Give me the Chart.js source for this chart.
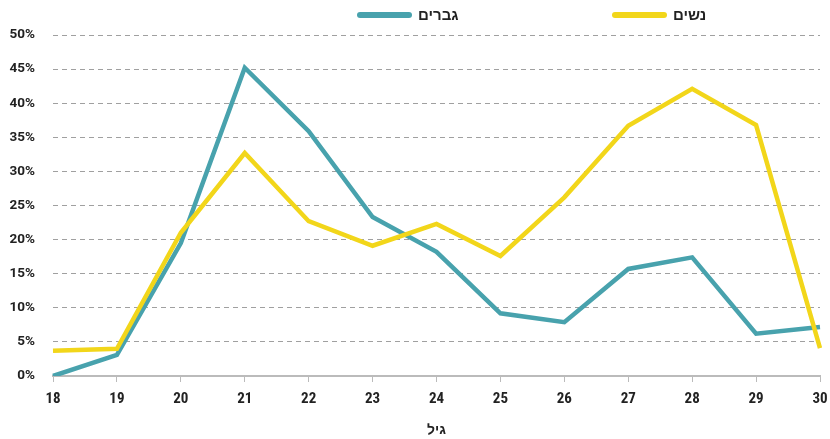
<!DOCTYPE html>
<html>
<head>
<meta charset="utf-8">
<script src="https://cdn.jsdelivr.net/npm/chart.js@4"></script>
<style>
  body { margin: 0; background: #fff; font-family: Roboto, sans-serif; }
  #wrap { position: relative; width: 830px; height: 439px; }
  .leg { position: absolute; top: 4px; height: 22px; display: flex; align-items: center; font-weight: bold; font-size: 15px; color: #222; }
  .leg span.ln { display: inline-block; width: 55px; height: 6px; border-radius: 3px; margin-right: 6px; }
</style>
</head>
<body>
<div id="wrap">
  <canvas id="chart" width="830" height="439"></canvas>
  <div class="leg" style="left:357px"><span class="ln" style="background:#48a2ad"></span><span>גברים</span></div>
  <div class="leg" style="left:612px"><span class="ln" style="background:#f2d61a"></span><span>נשים</span></div>
</div>
<script>
const ages = ['18', '19', '20', '21', '22', '23', '24', '25', '26', '27', '28', '29', '30'];
const men = [0, 3.1, 19.5, 45.2, 35.9, 23.3, 18.2, 9.2, 7.9, 15.7, 17.4, 6.2, 7.2];
const women = [3.7, 4.0, 21, 32.7, 22.7, 19.1, 22.3, 17.6, 26.2, 36.7, 42.1, 36.8, 4.1];

const ctx = document.getElementById('chart').getContext('2d');

new Chart(ctx, {
    type: 'line',
    data: {
        labels: ages,
        datasets: [
            {
                label: 'נשים',
                data: women,
                borderColor: '#f2d61a',
                borderWidth: 4.5,
                pointRadius: 0,
                tension: 0
            },
            {
                label: 'גברים',
                data: men,
                borderColor: '#48a2ad',
                borderWidth: 4.5,
                pointRadius: 0,
                tension: 0
            }
        ]
    },
    options: {
        responsive: false,
        animation: false,
        layout: { padding: { top: 35, right: 0, left: 0, bottom: 0 } },
        plugins: {
            legend: { display: false },
            tooltip: { enabled: false }
        },
        scales: {
            x: {
                afterFit: function (axis) {
                    axis.height = 63;
                    axis.paddingRight = 10;  // let the "30" label hang past the plot edge
                },
                grid: { drawOnChartArea: false, drawTicks: true, tickLength: 6, color: '#bbb' },
                border: { color: '#bbb', width: 2 },
                ticks: {
                    color: '#222',
                    padding: 8,
                    maxRotation: 0,
                    font: { family: "'Liberation Sans Narrow', 'Roboto Condensed', Roboto, sans-serif", size: 15, weight: 'bold' }
                },
                title: {
                    display: true,
                    text: 'גיל',
                    color: '#222',
                    padding: { top: 4, bottom: 0 },
                    font: { family: 'Roboto, sans-serif', size: 14, weight: 'bold' }
                }
            },
            y: {
                min: 0,
                max: 50,
                afterFit: function (axis) { axis.width = 53; },
                grid: { drawTicks: false, color: '#a0a0a0', lineWidth: 1 },
                border: { display: false, dash: [5, 4] },
                ticks: {
                    stepSize: 5,
                    padding: 18,
                    color: '#222',
                    font: { family: 'Roboto, sans-serif', size: 13.5, weight: 'bold' },
                    callback: function (v) { return v + '%'; }
                }
            }
        }
    }
});
</script>
</body>
</html>
